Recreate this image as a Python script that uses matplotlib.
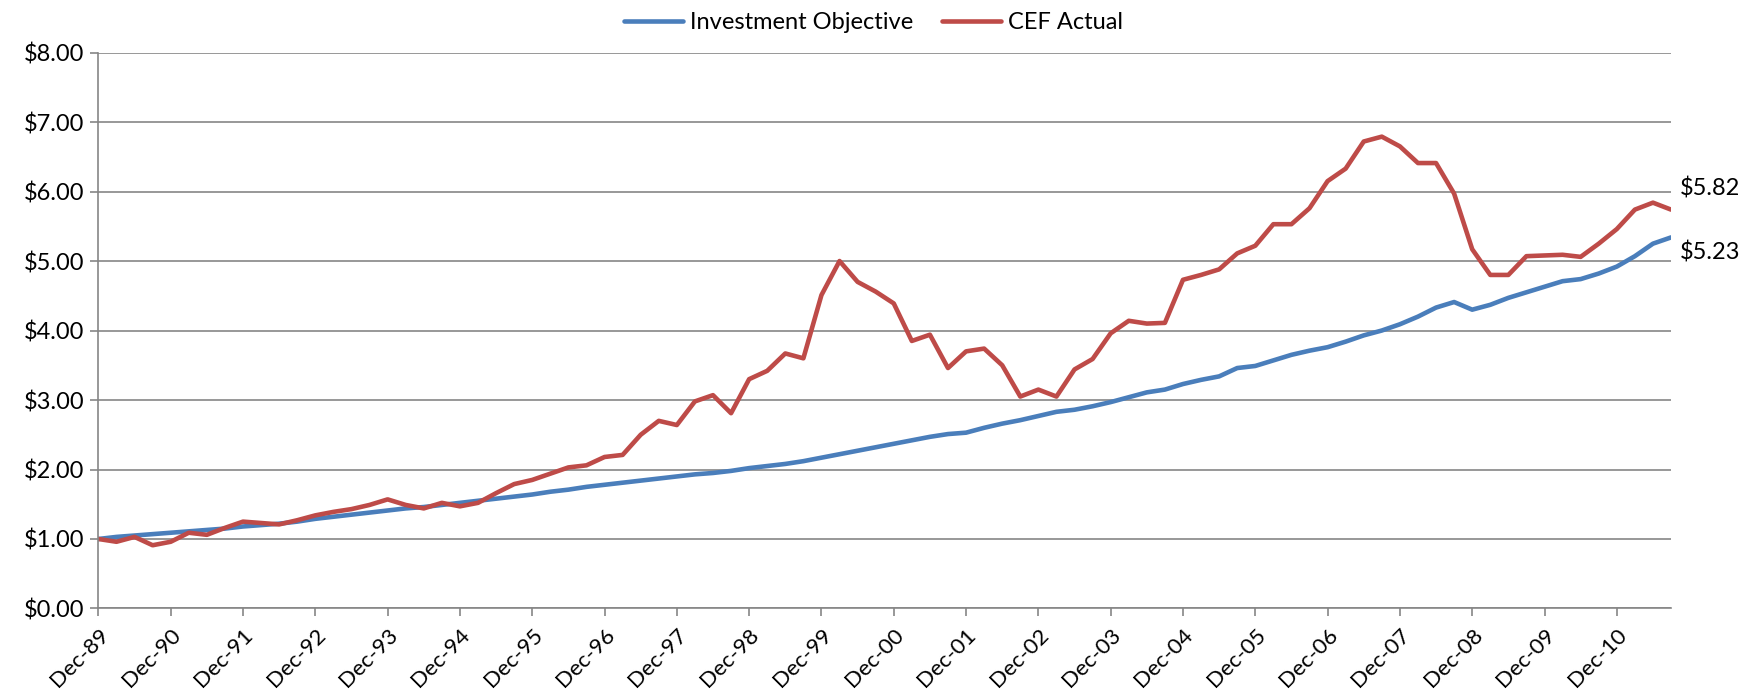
import matplotlib
matplotlib.use("Agg")
import matplotlib.pyplot as plt
import numpy as np

# quarterly values, Dec-89 through Sep-11
investment_objective = [
    1.00, 1.03, 1.05, 1.07, 1.09, 1.11, 1.13, 1.15, 1.18, 1.20,
    1.22, 1.25, 1.29, 1.32, 1.35, 1.38, 1.41, 1.44, 1.46, 1.49,
    1.52, 1.55, 1.58, 1.61, 1.64, 1.68, 1.71, 1.75, 1.78, 1.81,
    1.84, 1.87, 1.90, 1.93, 1.95, 1.98, 2.02, 2.05, 2.08, 2.12,
    2.17, 2.22, 2.27, 2.32, 2.37, 2.42, 2.47, 2.51, 2.53, 2.60,
    2.66, 2.71, 2.77, 2.83, 2.86, 2.91, 2.97, 3.04, 3.11, 3.15,
    3.23, 3.29, 3.34, 3.46, 3.49, 3.57, 3.65, 3.71, 3.76, 3.84,
    3.93, 4.00, 4.09, 4.20, 4.33, 4.41, 4.30, 4.37, 4.47, 4.55,
    4.63, 4.71, 4.74, 4.82, 4.92, 5.07, 5.25, 5.34,
]
cef_actual = [
    1.00, 0.96, 1.03, 0.91, 0.96, 1.09, 1.06, 1.16, 1.25, 1.23,
    1.21, 1.27, 1.34, 1.39, 1.43, 1.49, 1.57, 1.49, 1.44, 1.52,
    1.47, 1.52, 1.66, 1.79, 1.85, 1.94, 2.03, 2.06, 2.18, 2.21,
    2.50, 2.70, 2.64, 2.98, 3.07, 2.81, 3.30, 3.42, 3.67, 3.60,
    4.51, 5.00, 4.70, 4.56, 4.39, 3.85, 3.94, 3.46, 3.70, 3.74,
    3.50, 3.05, 3.15, 3.05, 3.44, 3.59, 3.96, 4.14, 4.10, 4.11,
    4.73, 4.80, 4.88, 5.11, 5.22, 5.53, 5.53, 5.76, 6.15, 6.33,
    6.72, 6.79, 6.65, 6.41, 6.41, 5.97, 5.17, 4.80, 4.80, 5.07,
    5.08, 5.09, 5.06, 5.25, 5.46, 5.74, 5.84, 5.74,
]
year_labels = ["Dec-89", "Dec-90", "Dec-91", "Dec-92", "Dec-93", "Dec-94",
               "Dec-95", "Dec-96", "Dec-97", "Dec-98", "Dec-99", "Dec-00",
               "Dec-01", "Dec-02", "Dec-03", "Dec-04", "Dec-05", "Dec-06",
               "Dec-07", "Dec-08", "Dec-09", "Dec-10"]
end_labels = ["$5.82", "$5.23"]

plt.rcParams['font.family'] = ['Lato', 'DejaVu Sans']

BLUE = "#4A7EBB"
RED = "#BE4B48"
GRID = "#868686"
FS = 17

fig = plt.figure(figsize=(17.54, 6.99), dpi=100)
ax = fig.add_axes([0.0561, 0.1295, 0.8966, 0.7953])

q = np.arange(len(cef_actual))
ax.plot(q, investment_objective, color=BLUE, lw=3.3, label="Investment Objective",
        solid_joinstyle="round", solid_capstyle="round")
ax.plot(q, cef_actual, color=RED, lw=3.3, label="CEF Actual",
        solid_joinstyle="round", solid_capstyle="round")

ax.set_xlim(0, len(q) - 1)
ax.set_ylim(0, 8)
ax.set_yticks(np.arange(0, 9, 1))
ax.set_yticklabels([f"${v:.2f}" for v in range(9)], fontsize=FS)
ax.set_xticks(np.arange(0, 4 * len(year_labels), 4))
ax.set_xticklabels(year_labels, rotation=45, ha="right", va="top",
                   rotation_mode="anchor", fontsize=FS - 1)

ax.grid(axis="y", color=GRID, lw=1.2)
ax.set_axisbelow(True)
for s in ["top", "right"]:
    ax.spines[s].set_visible(False)
for s in ["left", "bottom"]:
    ax.spines[s].set_color(GRID)
    ax.spines[s].set_linewidth(1.2)
ax.tick_params(axis="both", color=GRID, width=1.2, length=6, pad=4)
ax.tick_params(axis="x", pad=6)

# end-of-series labels
ax.annotate(end_labels[0], xy=(q[-1], cef_actual[-1]), xytext=(6, 15),
            textcoords="offset points", va="center", ha="left", fontsize=FS,
            annotation_clip=False)
ax.annotate(end_labels[1], xy=(q[-1], investment_objective[-1]), xytext=(6, -11),
            textcoords="offset points", va="center", ha="left", fontsize=FS,
            annotation_clip=False)

fig.legend(loc="upper center", bbox_to_anchor=(0.498, 1.013), ncol=2, frameon=False,
           fontsize=FS, handlelength=2.5, handletextpad=0.3, columnspacing=1.2)

fig.savefig("out.png", dpi=100)
